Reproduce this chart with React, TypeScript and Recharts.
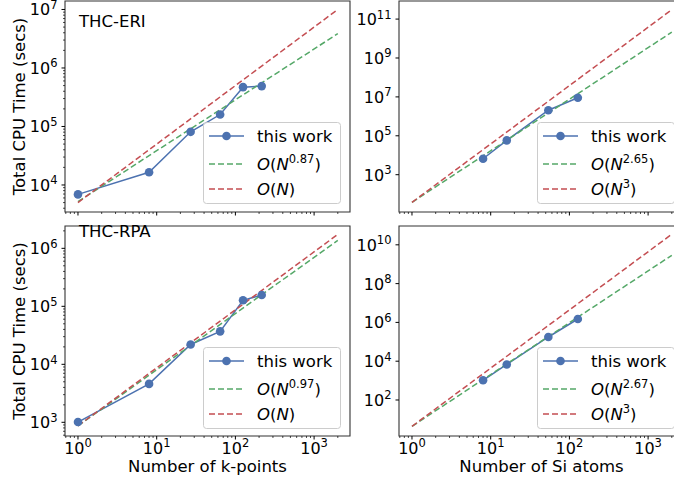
import React from "react";
import { LineChart, Line, XAxis, YAxis, ReferenceArea, Legend } from "recharts";

const BLUE = "#4c72b0";
const GREEN = "#55a868";
const RED = "#c44e52";
const INK = "#000";
const SPINE = "#333";
const FONT = "'DejaVu Sans', Verdana, sans-serif";

// measured total CPU times (secs)
const kPoints = [1, 8, 27, 64, 125, 216];
const eriKTime = [6900, 16500, 81000, 160000, 470000, 490000];
const rpaKTime = [1010, 4600, 22000, 37000, 127000, 157000];

const siAtoms = [8, 16, 54, 128];
const eriSiTime = [6600, 58000, 2070000, 9000000];
const rpaSiTime = [1040, 6800, 177000, 1500000];

const guideN = [1, 2000];
const eriKFit = [5200, 3.86e6];
const eriKLinear = [5000, 1.0e7];
const rpaKFit = [865, 1.37e6];
const rpaKLinear = [870, 1.74e6];
const eriSiFit = [38, 2.13e10];
const eriSiCubic = [38, 3.04e11];
const rpaSiFit = [4.4, 2.87e9];
const rpaSiCubic = [4.4, 3.52e10];

// axes
const xDomain = [0.684, 2858];
const xMajor = [1, 10, 100, 1000];
const eriKDomain = [3451, 1.396e7];
const eriKMajor = [1e4, 1e5, 1e6, 1e7];
const rpaKDomain = [580.7, 2.427e6];
const rpaKMajor = [1e3, 1e4, 1e5, 1e6];
const eriSiDomain = [12.08, 8.51e11];
const eriSiMajor = [1e3, 1e5, 1e7, 1e9, 1e11];
const rpaSiDomain = [1.393, 9.33e10];
const rpaSiMajor = [1e2, 1e4, 1e6, 1e8, 1e10];

// minor log ticks (2..9 x 10^k) inside a domain
const minorTicks = (dom: number[]) => {
  const out: number[] = [];
  for (let e = -1; e <= 12; e++) {
    for (let m = 2; m <= 9; m++) {
      const v = m * Math.pow(10, e);
      if (v >= dom[0] && v <= dom[1]) out.push(v);
    }
  }
  return out;
};

const pts = (xs: number[], ys: number[]) => xs.map((x, i) => ({ x, y: ys[i] }));
const isMajor = (v: number) => Math.abs(Math.log10(v) - Math.round(Math.log10(v))) < 1e-6;

const XTick = (props: any) => {
  const { x, y, payload, labels } = props;
  const v = payload.value;
  const major = isMajor(v);
  return (
    <g>
      <line x1={x} x2={x} y1={y} y2={y + (major ? 3.5 : 2)} stroke={INK} strokeWidth={major ? 1 : 0.7} />
      {major && labels && (
        <text x={x} y={y + 17.5} textAnchor="middle" fontFamily={FONT} fontSize={16} fill={INK}>
          10<tspan dy={-6.5} fontSize={11.5}>{Math.round(Math.log10(v))}</tspan>
        </text>
      )}
    </g>
  );
};

const YTick = (props: any) => {
  const { x, y, payload } = props;
  const v = payload.value;
  const major = isMajor(v);
  return (
    <g>
      <line x1={x - (major ? 3.5 : 2)} x2={x} y1={y} y2={y} stroke={INK} strokeWidth={major ? 1 : 0.7} />
      {major && (
        <text x={x - 7.5} y={y + 6} textAnchor="end" fontFamily={FONT} fontSize={16} fill={INK}>
          10<tspan dy={-6.5} fontSize={11.5}>{Math.round(Math.log10(v))}</tspan>
        </text>
      )}
    </g>
  );
};

const BigO = ({ x, y, exp }: { x: number; y: number; exp?: string }) => (
  <text x={x} y={y} fontFamily={FONT} fontSize={16.5} fill={INK}>
    <tspan fontStyle="italic">O</tspan>(<tspan fontStyle="italic">N</tspan>
    {exp ? (
      <>
        <tspan dy={-7} fontSize={11.5}>{exp}</tspan>
        <tspan dy={7}>)</tspan>
      </>
    ) : (
      ")"
    )}
  </text>
);

const LegendBox = ({ fitExp, refExp }: { fitExp: string; refExp?: string }) => (
  <svg width={140} height={84} style={{ display: "block", overflow: "visible" }}>
    <rect x={0.5} y={0.5} width={137} height={81} rx={3} fill="#fff" fillOpacity={0.8} stroke="#cccccc" />
    <line x1={6} x2={41} y1={14} y2={14} stroke={BLUE} strokeWidth={1.5} />
    <circle cx={23.5} cy={14} r={4.3} fill={BLUE} />
    <text x={54} y={19.5} fontFamily={FONT} fontSize={16.5} fill={INK}>
      this work
    </text>
    <line x1={6} x2={41} y1={42} y2={42} stroke={GREEN} strokeWidth={1.5} strokeDasharray="6 3" />
    <BigO x={54} y={47.5} exp={fitExp} />
    <line x1={6} x2={41} y1={67} y2={67} stroke={RED} strokeWidth={1.5} strokeDasharray="6 3" />
    <BigO x={54} y={72.5} exp={refExp} />
  </svg>
);

type PanelProps = {
  left: number;
  top: number;
  height: number;
  marginTop: number;
  xAxisH: number;
  xs: number[];
  times: number[];
  fit: number[];
  guide: number[];
  yDomain: number[];
  yMajor: number[];
  yMinor: boolean;
  xLabels: boolean;
  xTitle?: string;
  yTitle?: string;
  tag: string;
  tagY: number;
  fitExp: string;
  refExp?: string;
  legendTop: number;
};

const Panel = (p: PanelProps) => {
  const plotBottom = p.height - p.xAxisH;
  const xTicks = [...xMajor, ...minorTicks(xDomain)].sort((a, b) => a - b);
  const yTicks = (p.yMinor ? [...p.yMajor, ...minorTicks(p.yDomain)] : p.yMajor).sort((a, b) => a - b);
  const midY = (p.marginTop + plotBottom) / 2;
  const decorations = () => (
    <g fontFamily={FONT} fill={INK}>
      <text x={79} y={p.tagY} fontSize={16.5}>
        {p.tag}
      </text>
      {p.yTitle && (
        <text x={19.5} y={midY} fontSize={16.5} textAnchor="middle" dominantBaseline="central" transform={`rotate(-90 19.5 ${midY})`}>
          {p.yTitle}
        </text>
      )}
      {p.xTitle && (
        <text x={207.5} y={248} fontSize={16.5} textAnchor="middle">
          {p.xTitle}
        </text>
      )}
    </g>
  );
  return (
    <div style={{ position: "absolute", left: p.left, top: p.top }}>
      <LineChart width={360} height={p.height} margin={{ top: p.marginTop, right: 10, bottom: 0, left: 0 }}>
        <XAxis
          dataKey="x"
          type="number"
          scale="log"
          domain={xDomain}
          allowDataOverflow
          ticks={xTicks}
          interval={0}
          height={p.xAxisH}
          axisLine={false}
          tickLine={false}
          tickSize={0}
          tickMargin={0}
          tick={<XTick labels={p.xLabels} />}
        />
        <YAxis
          dataKey="y"
          type="number"
          scale="log"
          domain={p.yDomain}
          allowDataOverflow
          ticks={yTicks}
          interval={0}
          width={65}
          axisLine={false}
          tickLine={false}
          tickSize={0}
          tickMargin={0}
          tick={<YTick />}
          label={{ content: decorations }}
        />
        <Line
          data={pts(p.xs, p.times)}
          dataKey="y"
          stroke={BLUE}
          strokeWidth={1.5}
          dot={{ r: 4.3, fill: BLUE, stroke: BLUE, strokeWidth: 0 }}
          isAnimationActive={false}
        />
        <Line data={pts(guideN, p.fit)} dataKey="y" stroke={GREEN} strokeWidth={1.5} strokeDasharray="6 3" dot={false} isAnimationActive={false} />
        <Line data={pts(guideN, p.guide)} dataKey="y" stroke={RED} strokeWidth={1.5} strokeDasharray="6 3" dot={false} isAnimationActive={false} />
        <ReferenceArea
          x1={xDomain[0]}
          x2={xDomain[1]}
          y1={p.yDomain[0]}
          y2={p.yDomain[1]}
          fill="none"
          stroke={SPINE}
          strokeWidth={1.1}
          ifOverflow="visible"
        />
        <Legend
          layout="vertical"
          align="center"
          verticalAlign="middle"
          wrapperStyle={{ left: 203, top: p.legendTop, width: 140, height: 84 }}
          content={() => <LegendBox fitExp={p.fitExp} refExp={p.refExp} />}
        />
      </LineChart>
    </div>
  );
};

export default function App() {
  return (
    <div style={{ position: "absolute", left: 0, top: 0, width: 674, height: 480, overflow: "hidden", background: "#fff" }}>
      <Panel
        left={0}
        top={0}
        height={240}
        marginTop={1}
        xAxisH={28}
        xs={kPoints}
        times={eriKTime}
        fit={eriKFit}
        guide={eriKLinear}
        yDomain={eriKDomain}
        yMajor={eriKMajor}
        yMinor
        xLabels={false}
        yTitle="Total CPU Time (secs)"
        tag="THC-ERI"
        tagY={26.5}
        fitExp="0.87"
        legendTop={122}
      />
      <Panel
        left={334}
        top={0}
        height={240}
        marginTop={1}
        xAxisH={28}
        xs={siAtoms}
        times={eriSiTime}
        fit={eriSiFit}
        guide={eriSiCubic}
        yDomain={eriSiDomain}
        yMajor={eriSiMajor}
        yMinor={false}
        xLabels={false}
        tag=""
        tagY={26.5}
        fitExp="2.65"
        refExp="3"
        legendTop={122}
      />
      <Panel
        left={0}
        top={224}
        height={256}
        marginTop={2}
        xAxisH={44}
        xs={kPoints}
        times={rpaKTime}
        fit={rpaKFit}
        guide={rpaKLinear}
        yDomain={rpaKDomain}
        yMajor={rpaKMajor}
        yMinor
        xLabels
        xTitle="Number of k-points"
        yTitle="Total CPU Time (secs)"
        tag="THC-RPA"
        tagY={13.3}
        fitExp="0.97"
        legendTop={123}
      />
      <Panel
        left={334}
        top={224}
        height={256}
        marginTop={2}
        xAxisH={44}
        xs={siAtoms}
        times={rpaSiTime}
        fit={rpaSiFit}
        guide={rpaSiCubic}
        yDomain={rpaSiDomain}
        yMajor={rpaSiMajor}
        yMinor={false}
        xLabels
        xTitle="Number of Si atoms"
        tag=""
        tagY={13.3}
        fitExp="2.67"
        refExp="3"
        legendTop={123}
      />
    </div>
  );
}
